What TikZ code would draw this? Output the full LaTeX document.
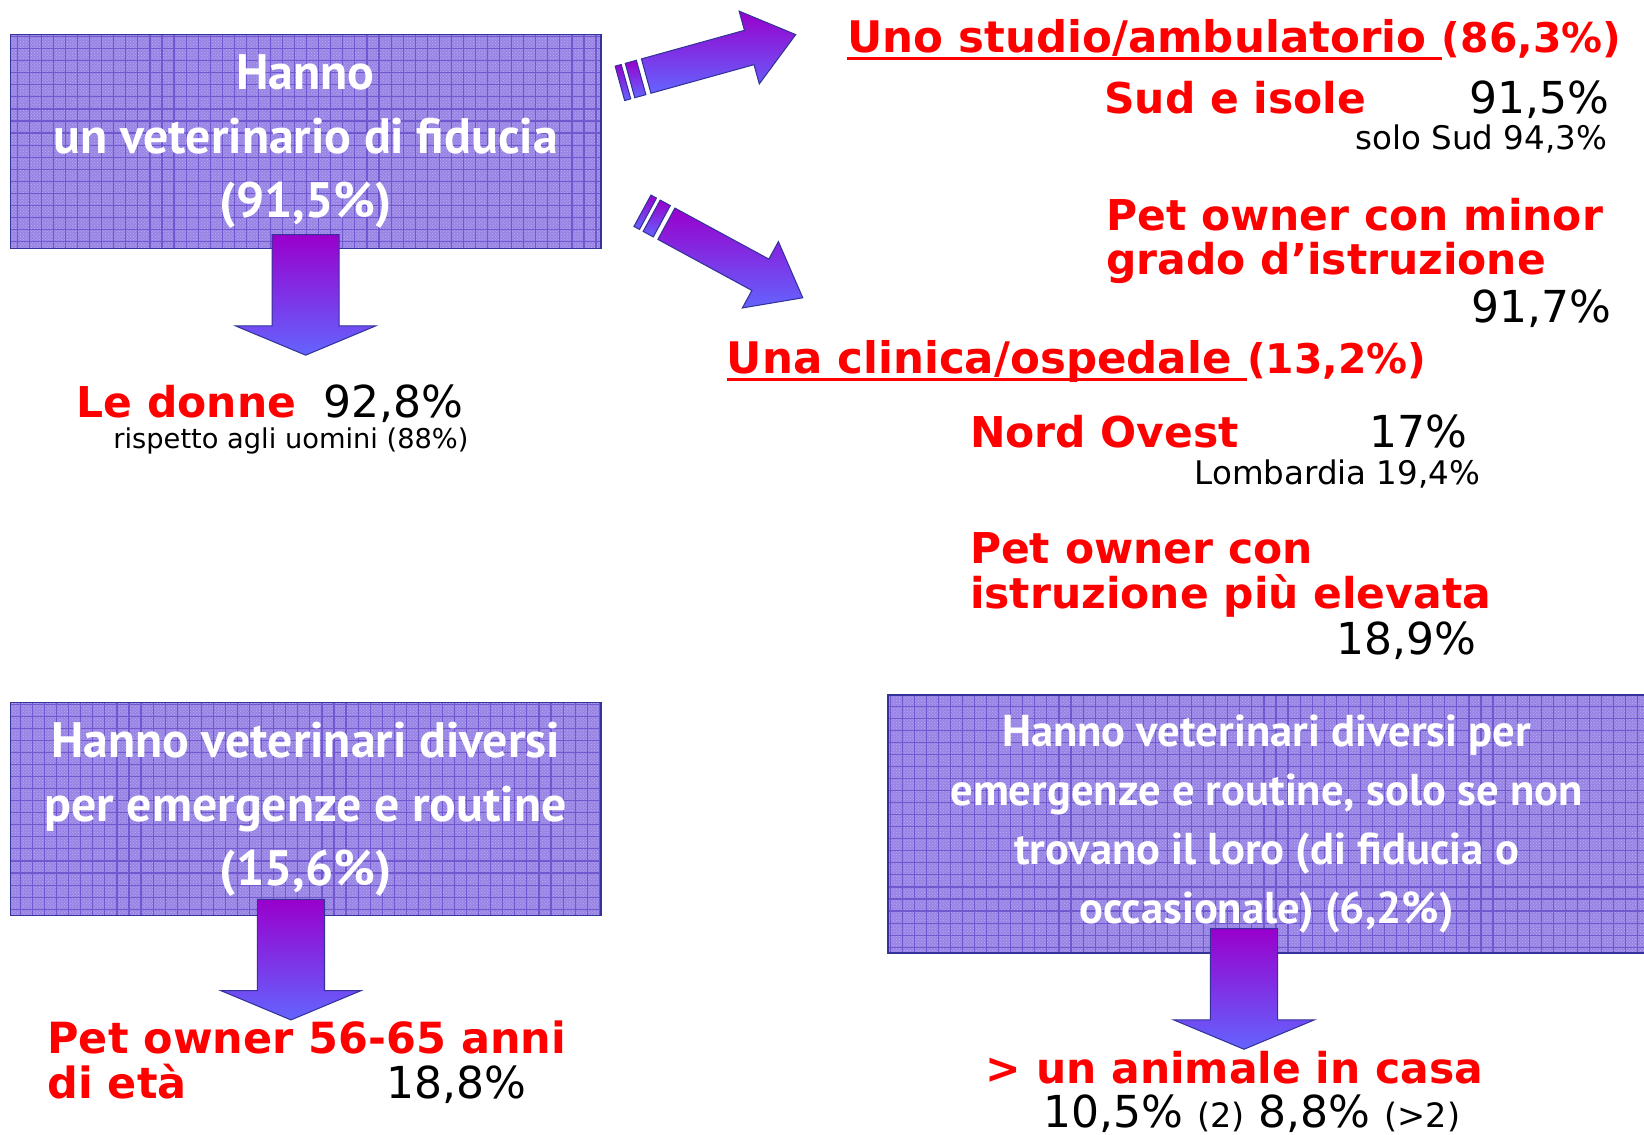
\documentclass[tikz,border=0pt]{standalone}
\usepackage{fontspec}
\setmainfont{DejaVu Sans}
\newfontfamily\boxfont{PT Sans}
\usetikzlibrary{calc,patterns}

\definecolor{boxfill}{RGB}{152,132,228}
\definecolor{boxdots}{RGB}{188,174,244}
\definecolor{boxgrid}{RGB}{114,88,206}
\definecolor{boxedge}{RGB}{51,51,153}
\definecolor{arrtop}{RGB}{153,0,204}
\definecolor{arrbot}{RGB}{100,100,255}

\newcommand{\fsz}[2]{\fontsize{#1}{#2}\selectfont}

\tikzset{
  infobox/.style   = {draw=boxedge, line width=1.5pt,
                      preaction={fill=boxfill},
                      pattern=crosshatch dots, pattern color=boxdots,
                      path picture={\draw[boxgrid, line width=1.1pt]
                        (path picture bounding box.south west) grid[step=11.5pt]
                        (path picture bounding box.north east);},
                      text=white, align=center, inner sep=0pt},
  redtxt/.style    = {text=red, inner sep=0pt, anchor=base west,
                      font=\bfseries\fsz{40.5}{44}},
  numtxt/.style    = {inner sep=0pt, font=\fsz{42}{46}},
  smalltxt/.style  = {inner sep=0pt, font=\fsz{31}{34}},
  uline/.style     = {red, line width=3pt},
  blockarr/.style  = {top color=arrtop, bottom color=arrbot,
                      draw=boxedge, line width=1pt},
  downarr/.pic     = {\shade[blockarr] (-32,0) -- (32,0) -- (32,87) -- (67,87)
                        -- (0,115) -- (-67,87) -- (-32,87) -- cycle;},
  stripearr/.pic   = {\shade[blockarr] (26,-17) -- (128,-17) -- (128,-36) -- (174,0)
                        -- (128,36) -- (128,17) -- (26,17) -- cycle;
                      \shade[blockarr] (0,-17) rectangle (6,17);
                      \shade[blockarr] (10,-17) rectangle (21,17);},
}

\begin{document}
\begin{tikzpicture}[x=1pt, y=-1pt]
\useasboundingbox (0,0) rectangle (1568,1082);

%% ─── boxes ────────────────────────────────────────────────────────────────
\node[infobox, minimum width=563pt, minimum height=204pt,
      font=\boxfont\bfseries\fsz{47.5}{61}] (fid) at (291.5,135)
  {Hanno\\un veterinario di fiducia\\(91,5\%)};

\node[infobox, minimum width=563pt, minimum height=203pt,
      font=\boxfont\bfseries\fsz{47.5}{61}] (div) at (291.5,771.5)
  {Hanno veterinari diversi\\per emergenze e routine\\(15,6\%)};

\node[infobox, minimum width=722pt, minimum height=246pt,
      font=\boxfont\bfseries\fsz{42.5}{56}] (occ) at (1208,786)
  {Hanno veterinari diversi per\\emergenze e routine, solo se non\\
   trovano il loro (di fiducia o\\occasionale) (6,2\%)};

%% ─── block arrows ─────────────────────────────────────────────────────────
\pic at ($(fid.south)+(0,-14)$) {downarr};
\pic at ($(div.south)+(-14,-16)$) {downarr};
\pic at ($(occ.south)+(-21.5,-24)$) {downarr};
\pic[rotate=15.5]  at ($(fid.east)+(17.5,-55.5)$) {stripearr};
\pic[rotate=-28.5] at ($(fid.east)+(39,66)$) {stripearr};

%% ─── studio / ambulatorio ─────────────────────────────────────────────────
\node[redtxt, font=\bfseries\fsz{41.5}{44}] (studio) at (808,50)
  {Uno studio/ambulatorio\ \mbox{}};
\node[redtxt, font=\bfseries\fsz{39}{42}] (studiopct) at (studio.base east) {(86,3\%)};
\draw[uline] ([yshift=-6pt]studio.base west) -- ([yshift=-6pt]studio.base east);

\node[redtxt] (sud) at (1053,108) {Sud e isole};
\node[numtxt, anchor=base east] (sudpct) at (1535,108) {91,5\%};
\node[smalltxt, anchor=base east] (solosud) at (1533,143) {solo Sud 94,3\%};

\node[redtxt] (minor) at (1055,220) {Pet owner con minor};
\node[redtxt] (grado) at (1055,262) {grado d’istruzione};
\node[numtxt, anchor=base east] (minorpct) at (1537,308) {91,7\%};

%% ─── clinica / ospedale ───────────────────────────────────────────────────
\node[redtxt, font=\bfseries\fsz{41.5}{44}] (clinica) at (693,356)
  {Una clinica/ospedale\ \mbox{}};
\node[redtxt, font=\bfseries\fsz{39}{42}] (clinicapct) at (clinica.base east) {(13,2\%)};
\draw[uline] ([yshift=-6pt]clinica.base west) -- ([yshift=-6pt]clinica.base east);

\node[redtxt] (nord) at (925,427) {Nord Ovest};
\node[numtxt, anchor=base east] (nordpct) at (1400,427) {17\%};
\node[smalltxt, anchor=base east] (lomb) at (1412,462) {Lombardia 19,4\%};

\node[redtxt] (elev) at (925,537) {Pet owner con};
\node[redtxt] (istr) at (925,580) {istruzione più elevata};
\node[numtxt, anchor=base east] (elevpct) at (1408,624) {18,9\%};

%% ─── left column ──────────────────────────────────────────────────────────
\node[redtxt] (donne) at (73,398) {Le donne};
\node[numtxt, anchor=base west] (donnepct) at (308,398) {92,8\%};
\node[smalltxt, font=\fsz{26}{29}, anchor=base west] (uomini) at (108,428)
  {rispetto agli uomini (88\%)};

\node[redtxt, font=\bfseries\fsz{41}{44}] (anni) at (45,1005) {Pet owner 56-65 anni};
\node[redtxt, font=\bfseries\fsz{41}{44}] (eta) at (45,1048) {di età};
\node[numtxt, anchor=base west] (etapct) at (368,1048) {18,8\%};

%% ─── bottom right ─────────────────────────────────────────────────────────
\node[redtxt] (casa) at (940,1033) {> un animale in casa};
\node[numtxt, anchor=base west] (casapct) at (995,1075)
  {10,5\% {\fsz{32}{34}(2)} 8,8\% {\fsz{32}{34}(>2)}};

\end{tikzpicture}
\end{document}
